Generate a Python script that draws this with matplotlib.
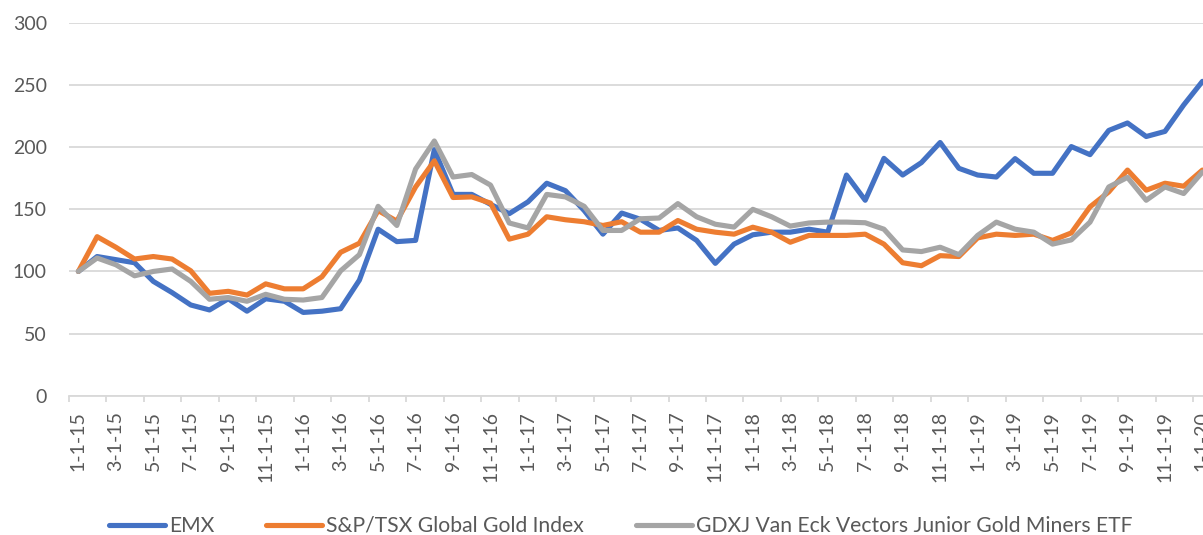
import numpy as np
import pandas as pd
import matplotlib
matplotlib.use('Agg')
import matplotlib.pyplot as plt
from matplotlib.ticker import FixedLocator

# monthly index values, Jan 2015 .. Jan 2020 (base = 100)
months = pd.date_range('2015-01-01', '2020-01-01', freq='MS')
month_labels = ['%d-1-%s' % (d.month, d.strftime('%y')) for d in months]

emx = [100, 112, 109.5, 107, 92, 83, 73, 69, 78, 68,
       78, 76, 67, 68, 70, 93, 134, 124, 125, 198,
       162, 162, 154, 146.5, 156, 171, 165, 149, 130, 147,
       142, 133, 135, 125, 106.5, 122, 129.5, 131.6, 131.6, 134,
       131.6, 177.6, 157.3, 191, 177.6, 187.6, 203.8, 183, 177.6, 176,
       190.8, 179, 179, 200.5, 194, 213.5, 219.5, 208.6, 212.7, 234,
       253]
sptsx = [100, 128, 119.5, 110, 112, 110, 100.5, 82.4, 84, 81,
         90, 86, 86, 95.7, 115.4, 122.7, 149, 140.5, 168, 189,
         159.5, 160, 155, 126, 130, 144, 141.6, 140, 137, 140,
         131.6, 131.6, 141, 134, 131.6, 130, 135.6, 131.6, 123.5, 129,
         129, 129, 130, 122, 107, 104.6, 112.7, 112, 127, 130,
         129, 130, 125, 131, 152, 164, 181.6, 165.4, 171, 168.6,
         181.6]
gdxj = [100, 110.8, 105.4, 96.5, 100, 102, 92, 77.6, 79, 76,
        81.6, 77.6, 77, 79, 100.5, 113.5, 152.4, 137, 182.4, 205,
        176, 178, 169.5, 139, 135, 162, 160, 152.4, 133, 133,
        142.4, 143, 154.6, 144, 138, 135.7, 150, 144, 136.5, 139,
        139.7, 139.7, 139.2, 134, 117.3, 116, 119.5, 113.5, 129, 139.7,
        134, 131.6, 122, 125.4, 139.7, 168, 175.7, 157.3, 168, 162.7,
        180]

series_names = ['EMX', 'S&P/TSX Global Gold Index',
                'GDXJ Van Eck Vectors Junior Gold Miners ETF']
colors = ['#4472C4', '#ED7D31', '#A5A5A5']

plt.rcParams['font.family'] = ['Lato', 'DejaVu Sans']
txt = '#595959'

fig = plt.figure(figsize=(12.03, 5.35), dpi=100)
# axes runs a bit past the right edge, like the cropped original
ax = fig.add_axes([69/1203, 0.2604, 1142.8/1203, 0.6967])

x = np.arange(len(months))
for vals, name, c in zip([emx, sptsx, gdxj], series_names, colors):
    ax.plot(x, vals, color=c, lw=3.7, label=name,
            solid_joinstyle='round', solid_capstyle='round')

ax.set_xlim(-0.5, len(months) - 0.5)
ax.set_ylim(0, 300)
ax.set_yticks(np.arange(0, 301, 50))
ax.grid(axis='y', color='#D9D9D9', lw=1.3)
ax.set_axisbelow(True)

for s in ['top', 'right', 'left']:
    ax.spines[s].set_visible(False)
ax.spines['bottom'].set_color('#D9D9D9')
ax.spines['bottom'].set_linewidth(1.3)

ax.set_xticks(x[::2])
ax.set_xticklabels(month_labels[::2], rotation=90, va='top', ha='center')
ax.xaxis.set_minor_locator(FixedLocator(np.arange(-0.5, len(months), 2)))
ax.tick_params(axis='x', which='major', length=0, pad=11, labelsize=14, labelcolor=txt)
ax.tick_params(axis='x', which='minor', length=4.5, width=1.3, color='#D9D9D9', direction='out')
ax.tick_params(axis='y', length=0, pad=16, labelsize=14, labelcolor=txt)

leg = fig.legend(loc='center', bbox_to_anchor=(0.516, 0.017), ncol=3, frameon=False,
                 fontsize=15.2, handlelength=2.65, handletextpad=0.19, columnspacing=2.46)
for t in leg.get_texts():
    t.set_color(txt)

fig.savefig('out.png', dpi=100)
